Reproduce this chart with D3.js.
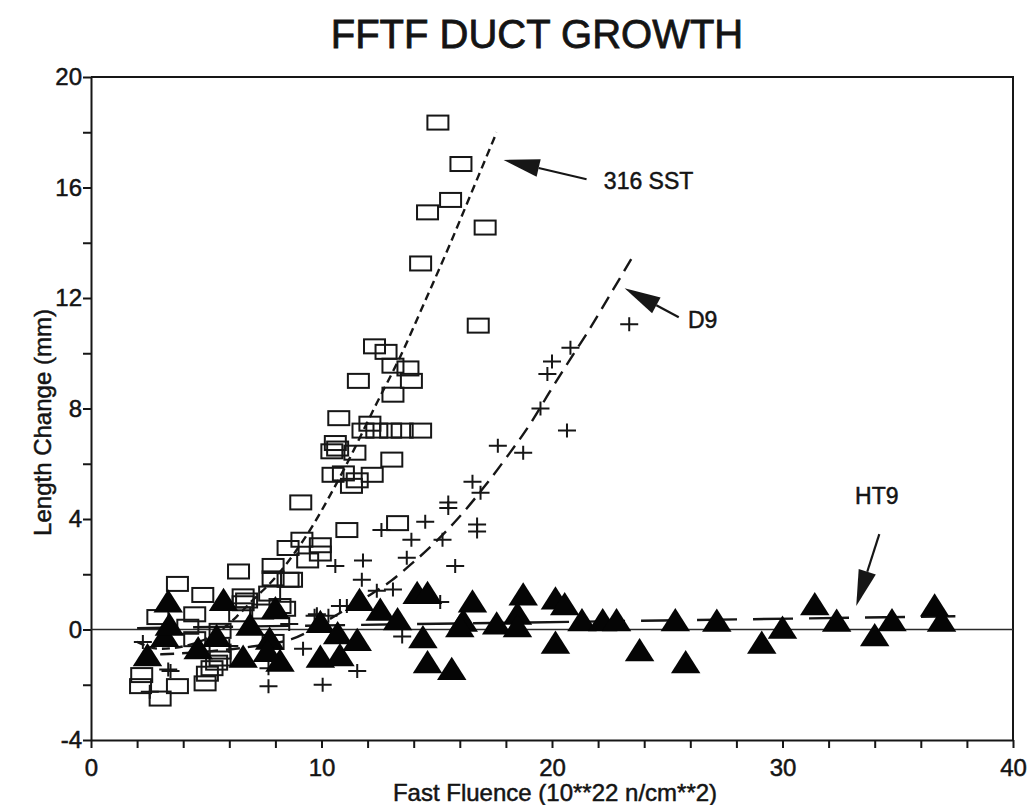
<!DOCTYPE html>
<html>
<head>
<meta charset="utf-8">
<script src="https://cdn.jsdelivr.net/npm/d3@7/dist/d3.min.js"></script>
<style>
  html, body { margin: 0; padding: 0; background: #fff; }
  svg { display: block; }
  text { font-family: "Liberation Sans", Arial, Helvetica, sans-serif; fill: #141414; stroke: #141414; stroke-width: 0.5px; }
</style>
</head>
<body>
<svg id="chart" width="1029" height="805"></svg>
<script>
// Duct length change vs. fast fluence for three duct alloys in FFTF.
// Each point is [fluence (10^22 n/cm^2), length change (mm)].

const sst316 = [
  [15.05, 18.35], [16.05, 16.85], [15.6, 15.55], [14.6, 15.1], [17.1, 14.55],
  [14.3, 13.25], [16.8, 11.0], [12.3, 10.25], [12.8, 10.05], [13.1, 9.55],
  [13.75, 9.45], [13.9, 9.0], [11.6, 9.0], [13.1, 8.5], [10.75, 7.65],
  [12.1, 7.45], [11.8, 7.2], [12.4, 7.2], [13.0, 7.2], [13.5, 7.2],
  [14.3, 7.2], [10.6, 6.75], [10.7, 6.55], [10.45, 6.45], [11.45, 6.4],
  [13.05, 6.15], [10.5, 5.6], [10.95, 5.65], [12.2, 5.6], [11.3, 5.2],
  [11.55, 5.4], [9.1, 4.6], [11.1, 3.6], [13.3, 3.85], [9.15, 3.25],
  [8.55, 2.95], [9.95, 3.05], [9.95, 2.75], [9.4, 2.5], [3.75, 1.65],
  [4.85, 1.25], [6.4, 2.1], [7.9, 2.3], [7.9, 1.85], [8.55, 1.8],
  [6.6, 1.2], [6.6, 0.95], [7.75, 1.3], [8.2, 0.85], [2.9, 0.45],
  [4.5, 0.55], [6.45, 0.55], [7.45, 0.65], [8.4, 0.75], [6.75, 1.05],
  [2.2, -1.65], [2.15, -2.05], [3.0, -2.5], [3.75, -2.05], [4.95, -1.95],
  [5.25, -1.4], [5.45, -1.2], [5.05, -1.6], [5.6, -1.05], [4.5, -0.35],
  [7.9, -0.45], [5.6, -0.8], [5.6, -0.05], [4.2, 0.1], [8.7, 1.8]
];

const d9 = [
  [23.35, 11.05], [20.8, 10.2], [20.0, 9.7], [19.8, 9.25], [19.5, 8.0],
  [20.65, 7.2], [18.75, 6.4], [17.65, 6.65], [16.9, 4.95], [16.55, 5.35],
  [15.5, 4.6], [15.5, 4.4], [16.75, 3.8], [16.75, 3.55], [14.5, 3.9],
  [13.9, 3.25], [15.25, 3.25], [12.6, 3.6], [11.8, 2.5], [10.6, 2.3],
  [13.7, 2.6], [15.8, 2.3], [11.75, 1.8], [12.4, 1.4], [13.1, 1.45],
  [15.15, 1.0], [11.1, 0.85], [9.8, 0.55], [10.8, 0.85], [13.5, -0.25],
  [9.2, -0.7], [11.55, -1.5], [10.05, -2.0], [7.7, -2.05], [3.45, -1.5],
  [2.55, -2.25], [9.7, 0.5], [10.3, 0.5], [7.7, -1.4], [2.25, -0.45],
  [3.35, -1.45], [6.0, -0.6], [8.6, 0.2]
];

const ht9 = [
  [3.35, 0.9], [5.75, 0.95], [3.2, -0.35], [2.45, -1.05], [3.4, 0.05],
  [4.65, -0.8], [5.45, -0.35], [6.6, -1.1], [6.9, 0.05], [8.0, 0.65],
  [7.75, -0.45], [8.2, -1.25], [7.65, -0.9], [9.95, 0.15], [9.95, -1.1],
  [10.8, -1.05], [10.7, -0.25], [11.65, 0.95], [11.55, -0.5], [12.55, 0.6],
  [13.3, 0.25], [14.15, 1.2], [14.6, 1.2], [14.4, -0.4], [14.6, -1.3],
  [15.65, -1.55], [16.15, 0.2], [16.55, 0.9], [17.6, 0.1], [18.75, 1.15],
  [18.5, 0.45], [16.0, 0.0], [18.5, 0.0], [20.15, 1.0], [20.55, 0.8],
  [20.15, -0.6], [21.3, 0.22], [22.2, 0.22], [22.8, 0.22], [23.8, -0.87],
  [25.35, 0.22], [25.8, -1.3], [27.15, 0.2], [29.1, -0.6], [30.0, -0.05],
  [31.4, 0.8], [32.35, 0.2], [34.0, -0.33], [34.75, 0.22], [36.6, 0.75],
  [36.9, 0.2]
];

// Trend curves through each alloy's data
const sst316Fit = [
  [2.0, -0.45], [3.0, -0.7], [4.5, -0.5], [5.5, -0.1], [6.3, 0.45],
  [7.0, 1.05], [7.8, 1.7], [8.5, 2.4], [9.5, 3.6], [10.4, 4.9],
  [11.1, 6.0], [12.4, 8.2], [13.4, 9.85], [14.5, 11.9], [15.6, 14.0],
  [16.6, 16.0], [17.6, 18.0]
];
const d9Fit = [
  [3.0, -0.9], [5.0, -0.8], [7.5, -0.55], [8.7, -0.35], [9.6, 0.0],
  [10.3, 0.35], [11.1, 0.75], [12.1, 1.25], [13.0, 1.75], [13.8, 2.3],
  [14.8, 3.05], [15.9, 4.0], [17.0, 5.1], [18.0, 6.2], [19.1, 7.5],
  [19.9, 8.6], [20.8, 9.8], [21.5, 10.7], [22.65, 12.3], [23.5, 13.5]
];
const ht9Fit = [[2.0, 0.05], [37.5, 0.48]];

// Callouts: label text, label anchor, arrow tail and arrow tip
const callouts = [
  { text: "316 SST", label: [22.25, 15.95], tail: [21.5, 16.3], tip: [17.9, 17.0] },
  { text: "D9",      label: [25.9, 10.9],   tail: [25.5, 11.3], tip: [23.15, 12.35] },
  { text: "HT9",     label: [33.15, 4.55],  tail: [34.2, 3.45], tip: [33.2, 0.85] }
];

const xTicks = d3.range(0, 41, 2);
const yTicks = d3.range(-4, 21, 2);
const xLabelEvery = 10;
const yLabelEvery = 4;

const svg = d3.select("#chart");
const x = d3.scaleLinear().domain([0, 40]).range([91, 1013]);
const y = d3.scaleLinear().domain([-4, 20]).range([740, 77]);
const ink = "#161616";

svg.append("rect").attr("width", 1029).attr("height", 805).attr("fill", "#fff");

// Title
svg.append("text")
  .attr("x", 537).attr("y", 48)
  .attr("text-anchor", "middle")
  .style("font-size", "40px")
  .style("stroke-width", "0.8px")
  .text("FFTF DUCT GROWTH");

// Axes
const xAxis = d3.axisBottom(x)
  .tickValues(xTicks)
  .tickFormat(d => d % xLabelEvery === 0 ? d : "")
  .tickSize(8).tickSizeOuter(0).tickPadding(11);
const yAxis = d3.axisLeft(y)
  .tickValues(yTicks)
  .tickFormat(d => d % yLabelEvery === 0 ? d : "")
  .tickSize(8).tickSizeOuter(0).tickPadding(1);

const gx = svg.append("g").attr("transform", `translate(0,${y(-4)})`).call(xAxis);
const gy = svg.append("g").attr("transform", `translate(${x(0)},0)`).call(yAxis);
[gx, gy].forEach(g => {
  g.selectAll("path, line").attr("stroke", ink).attr("stroke-width", 2);
  g.selectAll("text").style("font-size", "24px").attr("fill", ink)
    .style("font-family", '"Liberation Sans", Arial, sans-serif');
});

// Top and right frame
svg.append("path")
  .attr("d", `M${x(0)},${y(20)}H${x(40)}V${y(-4)}`)
  .attr("fill", "none").attr("stroke", ink).attr("stroke-width", 2);

// Axis titles
svg.append("text")
  .attr("transform", `translate(51,${(y(-4) + y(20)) / 2 + 14}) rotate(-90)`)
  .attr("text-anchor", "middle")
  .style("font-size", "24px")
  .text("Length Change (mm)");
svg.append("text")
  .attr("x", 555).attr("y", 801)
  .attr("text-anchor", "middle")
  .style("font-size", "24px")
  .text("Fast Fluence (10**22 n/cm**2)");

// Zero reference line
svg.append("line")
  .attr("x1", x(0)).attr("x2", x(40)).attr("y1", y(0)).attr("y2", y(0))
  .attr("stroke", "#2a2a2a").attr("stroke-width", 1.6);

// Trend curves
const line = d3.line().x(d => x(d[0])).y(d => y(d[1])).curve(d3.curveMonotoneX);
const fits = [
  { data: sst316Fit, dash: "8,5" },
  { data: d9Fit, dash: "14,8" },
  { data: ht9Fit, dash: "40,16" }
];
fits.forEach(f => {
  svg.append("path").attr("d", line(f.data))
    .attr("fill", "none").attr("stroke", ink).attr("stroke-width", 2.4)
    .attr("stroke-dasharray", f.dash);
});

// Markers
svg.append("g").selectAll("rect").data(sst316).join("rect")
  .attr("x", d => x(d[0]) - 10.5).attr("y", d => y(d[1]) - 7)
  .attr("width", 21).attr("height", 14)
  .attr("fill", "none").attr("stroke", ink).attr("stroke-width", 2);

svg.append("g").selectAll("path").data(d9).join("path")
  .attr("d", d => `M${x(d[0]) - 9},${y(d[1])}h18M${x(d[0])},${y(d[1]) - 7}v14`)
  .attr("fill", "none").attr("stroke", ink).attr("stroke-width", 2);

const tri = d3.symbol().type(d3.symbolTriangle).size(300);
svg.append("g").selectAll("path").data(ht9).join("path")
  .attr("transform", d => `translate(${x(d[0])},${y(d[1])}) scale(1.12,1.02)`)
  .attr("d", tri)
  .attr("fill", "#050505");

// Callout arrows and labels
const headLen = 36, headHalf = 9;
callouts.forEach(c => {
  const tx = x(c.tip[0]), ty = y(c.tip[1]);
  const sx = x(c.tail[0]), sy = y(c.tail[1]);
  const ang = Math.atan2(sy - ty, sx - tx);
  const bx = tx + headLen * Math.cos(ang), by = ty + headLen * Math.sin(ang);
  const px = -Math.sin(ang) * headHalf, py = Math.cos(ang) * headHalf;
  svg.append("line")
    .attr("x1", sx).attr("y1", sy).attr("x2", bx).attr("y2", by)
    .attr("stroke", ink).attr("stroke-width", 2.2);
  svg.append("path")
    .attr("d", `M${tx},${ty}L${bx + px},${by + py}L${bx - px},${by - py}Z`)
    .attr("fill", ink);
  svg.append("text")
    .attr("x", x(c.label[0])).attr("y", y(c.label[1]))
    .style("font-size", "23px")
    .text(c.text);
});
</script>
</body>
</html>
